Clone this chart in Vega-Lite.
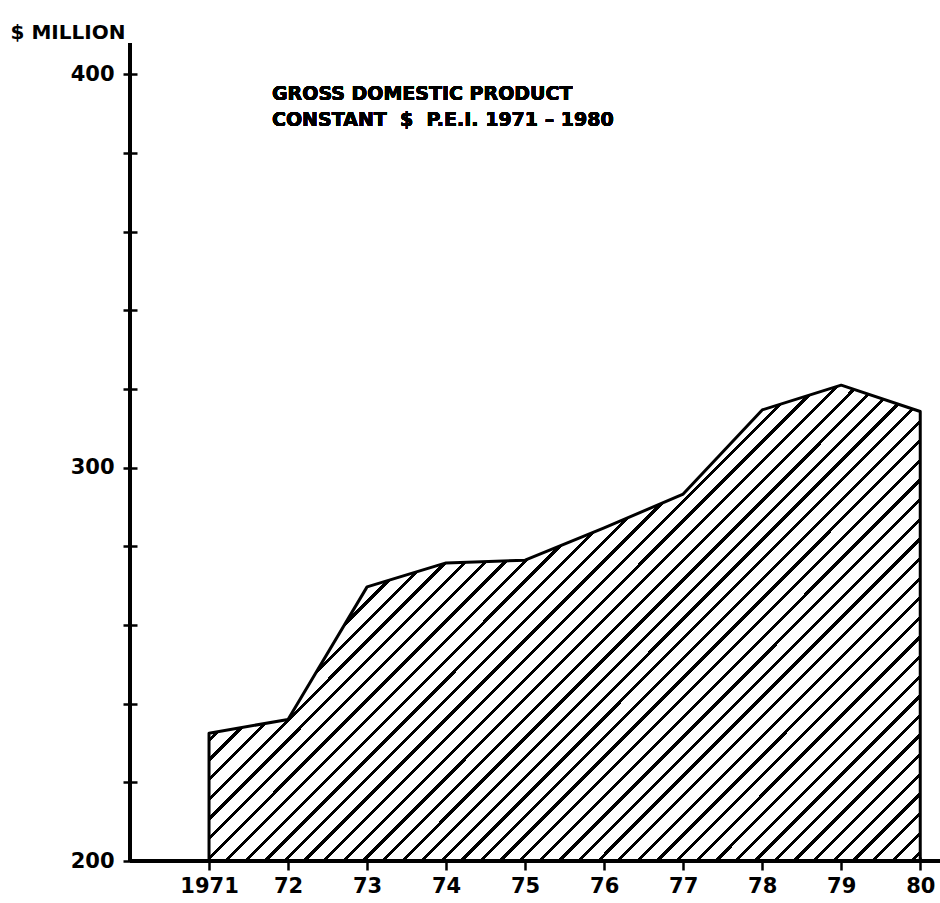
{
  "$schema": "https://vega.github.io/schema/vega-lite/v6.json",
  "autosize": "none",
  "padding": {"left": 130, "top": 43, "right": 0, "bottom": 42},
  "width": 810,
  "height": 818,
  "background": "white",
  "config": {"view": {"stroke": null}},
  "data": {"values": [
    {"year": 1971, "gdp": 232.5},
    {"year": 1972, "gdp": 236.0},
    {"year": 1973, "gdp": 269.7},
    {"year": 1974, "gdp": 275.8},
    {"year": 1975, "gdp": 276.5},
    {"year": 1976, "gdp": 284.7},
    {"year": 1977, "gdp": 293.3},
    {"year": 1978, "gdp": 314.7},
    {"year": 1979, "gdp": 321.0},
    {"year": 1980, "gdp": 314.3}
  ]},
  "layer": [
    {
      "mark": {
        "type": "area",
        "stroke": "black",
        "strokeWidth": 3,
        "strokeJoin": "round",
        "fill": {
          "gradient": "linear", "x1": 0, "y1": 0, "x2": 1.2, "y2": 0.8022,
          "stops": [
            {"offset": 0.0000, "color": "black"}, {"offset": 0.0035, "color": "black"}, {"offset": 0.0035, "color": "white"}, {"offset": 0.0159, "color": "white"},
            {"offset": 0.0159, "color": "black"}, {"offset": 0.0194, "color": "black"}, {"offset": 0.0194, "color": "white"}, {"offset": 0.0317, "color": "white"},
            {"offset": 0.0317, "color": "black"}, {"offset": 0.0352, "color": "black"}, {"offset": 0.0352, "color": "white"}, {"offset": 0.0476, "color": "white"},
            {"offset": 0.0476, "color": "black"}, {"offset": 0.0511, "color": "black"}, {"offset": 0.0511, "color": "white"}, {"offset": 0.0635, "color": "white"},
            {"offset": 0.0635, "color": "black"}, {"offset": 0.0670, "color": "black"}, {"offset": 0.0670, "color": "white"}, {"offset": 0.0794, "color": "white"},
            {"offset": 0.0794, "color": "black"}, {"offset": 0.0829, "color": "black"}, {"offset": 0.0829, "color": "white"}, {"offset": 0.0952, "color": "white"},
            {"offset": 0.0952, "color": "black"}, {"offset": 0.0987, "color": "black"}, {"offset": 0.0987, "color": "white"}, {"offset": 0.1111, "color": "white"},
            {"offset": 0.1111, "color": "black"}, {"offset": 0.1146, "color": "black"}, {"offset": 0.1146, "color": "white"}, {"offset": 0.1270, "color": "white"},
            {"offset": 0.1270, "color": "black"}, {"offset": 0.1305, "color": "black"}, {"offset": 0.1305, "color": "white"}, {"offset": 0.1429, "color": "white"},
            {"offset": 0.1429, "color": "black"}, {"offset": 0.1464, "color": "black"}, {"offset": 0.1464, "color": "white"}, {"offset": 0.1587, "color": "white"},
            {"offset": 0.1587, "color": "black"}, {"offset": 0.1622, "color": "black"}, {"offset": 0.1622, "color": "white"}, {"offset": 0.1746, "color": "white"},
            {"offset": 0.1746, "color": "black"}, {"offset": 0.1781, "color": "black"}, {"offset": 0.1781, "color": "white"}, {"offset": 0.1905, "color": "white"},
            {"offset": 0.1905, "color": "black"}, {"offset": 0.1940, "color": "black"}, {"offset": 0.1940, "color": "white"}, {"offset": 0.2063, "color": "white"},
            {"offset": 0.2063, "color": "black"}, {"offset": 0.2098, "color": "black"}, {"offset": 0.2098, "color": "white"}, {"offset": 0.2222, "color": "white"},
            {"offset": 0.2222, "color": "black"}, {"offset": 0.2257, "color": "black"}, {"offset": 0.2257, "color": "white"}, {"offset": 0.2381, "color": "white"},
            {"offset": 0.2381, "color": "black"}, {"offset": 0.2416, "color": "black"}, {"offset": 0.2416, "color": "white"}, {"offset": 0.2540, "color": "white"},
            {"offset": 0.2540, "color": "black"}, {"offset": 0.2575, "color": "black"}, {"offset": 0.2575, "color": "white"}, {"offset": 0.2698, "color": "white"},
            {"offset": 0.2698, "color": "black"}, {"offset": 0.2733, "color": "black"}, {"offset": 0.2733, "color": "white"}, {"offset": 0.2857, "color": "white"},
            {"offset": 0.2857, "color": "black"}, {"offset": 0.2892, "color": "black"}, {"offset": 0.2892, "color": "white"}, {"offset": 0.3016, "color": "white"},
            {"offset": 0.3016, "color": "black"}, {"offset": 0.3051, "color": "black"}, {"offset": 0.3051, "color": "white"}, {"offset": 0.3175, "color": "white"},
            {"offset": 0.3175, "color": "black"}, {"offset": 0.3210, "color": "black"}, {"offset": 0.3210, "color": "white"}, {"offset": 0.3333, "color": "white"},
            {"offset": 0.3333, "color": "black"}, {"offset": 0.3368, "color": "black"}, {"offset": 0.3368, "color": "white"}, {"offset": 0.3492, "color": "white"},
            {"offset": 0.3492, "color": "black"}, {"offset": 0.3527, "color": "black"}, {"offset": 0.3527, "color": "white"}, {"offset": 0.3651, "color": "white"},
            {"offset": 0.3651, "color": "black"}, {"offset": 0.3686, "color": "black"}, {"offset": 0.3686, "color": "white"}, {"offset": 0.3810, "color": "white"},
            {"offset": 0.3810, "color": "black"}, {"offset": 0.3845, "color": "black"}, {"offset": 0.3845, "color": "white"}, {"offset": 0.3968, "color": "white"},
            {"offset": 0.3968, "color": "black"}, {"offset": 0.4003, "color": "black"}, {"offset": 0.4003, "color": "white"}, {"offset": 0.4127, "color": "white"},
            {"offset": 0.4127, "color": "black"}, {"offset": 0.4162, "color": "black"}, {"offset": 0.4162, "color": "white"}, {"offset": 0.4286, "color": "white"},
            {"offset": 0.4286, "color": "black"}, {"offset": 0.4321, "color": "black"}, {"offset": 0.4321, "color": "white"}, {"offset": 0.4444, "color": "white"},
            {"offset": 0.4444, "color": "black"}, {"offset": 0.4479, "color": "black"}, {"offset": 0.4479, "color": "white"}, {"offset": 0.4603, "color": "white"},
            {"offset": 0.4603, "color": "black"}, {"offset": 0.4638, "color": "black"}, {"offset": 0.4638, "color": "white"}, {"offset": 0.4762, "color": "white"},
            {"offset": 0.4762, "color": "black"}, {"offset": 0.4797, "color": "black"}, {"offset": 0.4797, "color": "white"}, {"offset": 0.4921, "color": "white"},
            {"offset": 0.4921, "color": "black"}, {"offset": 0.4956, "color": "black"}, {"offset": 0.4956, "color": "white"}, {"offset": 0.5079, "color": "white"},
            {"offset": 0.5079, "color": "black"}, {"offset": 0.5114, "color": "black"}, {"offset": 0.5114, "color": "white"}, {"offset": 0.5238, "color": "white"},
            {"offset": 0.5238, "color": "black"}, {"offset": 0.5273, "color": "black"}, {"offset": 0.5273, "color": "white"}, {"offset": 0.5397, "color": "white"},
            {"offset": 0.5397, "color": "black"}, {"offset": 0.5432, "color": "black"}, {"offset": 0.5432, "color": "white"}, {"offset": 0.5556, "color": "white"},
            {"offset": 0.5556, "color": "black"}, {"offset": 0.5591, "color": "black"}, {"offset": 0.5591, "color": "white"}, {"offset": 0.5714, "color": "white"},
            {"offset": 0.5714, "color": "black"}, {"offset": 0.5749, "color": "black"}, {"offset": 0.5749, "color": "white"}, {"offset": 0.5873, "color": "white"},
            {"offset": 0.5873, "color": "black"}, {"offset": 0.5908, "color": "black"}, {"offset": 0.5908, "color": "white"}, {"offset": 0.6032, "color": "white"},
            {"offset": 0.6032, "color": "black"}, {"offset": 0.6067, "color": "black"}, {"offset": 0.6067, "color": "white"}, {"offset": 0.6190, "color": "white"},
            {"offset": 0.6190, "color": "black"}, {"offset": 0.6225, "color": "black"}, {"offset": 0.6225, "color": "white"}, {"offset": 0.6349, "color": "white"},
            {"offset": 0.6349, "color": "black"}, {"offset": 0.6384, "color": "black"}, {"offset": 0.6384, "color": "white"}, {"offset": 0.6508, "color": "white"},
            {"offset": 0.6508, "color": "black"}, {"offset": 0.6543, "color": "black"}, {"offset": 0.6543, "color": "white"}, {"offset": 0.6667, "color": "white"},
            {"offset": 0.6667, "color": "black"}, {"offset": 0.6702, "color": "black"}, {"offset": 0.6702, "color": "white"}, {"offset": 0.6825, "color": "white"},
            {"offset": 0.6825, "color": "black"}, {"offset": 0.6860, "color": "black"}, {"offset": 0.6860, "color": "white"}, {"offset": 0.6984, "color": "white"},
            {"offset": 0.6984, "color": "black"}, {"offset": 0.7019, "color": "black"}, {"offset": 0.7019, "color": "white"}, {"offset": 0.7143, "color": "white"},
            {"offset": 0.7143, "color": "black"}, {"offset": 0.7178, "color": "black"}, {"offset": 0.7178, "color": "white"}, {"offset": 0.7302, "color": "white"},
            {"offset": 0.7302, "color": "black"}, {"offset": 0.7337, "color": "black"}, {"offset": 0.7337, "color": "white"}, {"offset": 0.7460, "color": "white"},
            {"offset": 0.7460, "color": "black"}, {"offset": 0.7495, "color": "black"}, {"offset": 0.7495, "color": "white"}, {"offset": 0.7619, "color": "white"},
            {"offset": 0.7619, "color": "black"}, {"offset": 0.7654, "color": "black"}, {"offset": 0.7654, "color": "white"}, {"offset": 0.7778, "color": "white"},
            {"offset": 0.7778, "color": "black"}, {"offset": 0.7813, "color": "black"}, {"offset": 0.7813, "color": "white"}, {"offset": 0.7937, "color": "white"},
            {"offset": 0.7937, "color": "black"}, {"offset": 0.7972, "color": "black"}, {"offset": 0.7972, "color": "white"}, {"offset": 0.8095, "color": "white"},
            {"offset": 0.8095, "color": "black"}, {"offset": 0.8130, "color": "black"}, {"offset": 0.8130, "color": "white"}, {"offset": 0.8254, "color": "white"},
            {"offset": 0.8254, "color": "black"}, {"offset": 0.8289, "color": "black"}, {"offset": 0.8289, "color": "white"}, {"offset": 0.8413, "color": "white"},
            {"offset": 0.8413, "color": "black"}, {"offset": 0.8448, "color": "black"}, {"offset": 0.8448, "color": "white"}, {"offset": 0.8571, "color": "white"},
            {"offset": 0.8571, "color": "black"}, {"offset": 0.8606, "color": "black"}, {"offset": 0.8606, "color": "white"}, {"offset": 0.8730, "color": "white"},
            {"offset": 0.8730, "color": "black"}, {"offset": 0.8765, "color": "black"}, {"offset": 0.8765, "color": "white"}, {"offset": 0.8889, "color": "white"},
            {"offset": 0.8889, "color": "black"}, {"offset": 0.8924, "color": "black"}, {"offset": 0.8924, "color": "white"}, {"offset": 0.9048, "color": "white"},
            {"offset": 0.9048, "color": "black"}, {"offset": 0.9083, "color": "black"}, {"offset": 0.9083, "color": "white"}, {"offset": 0.9206, "color": "white"},
            {"offset": 0.9206, "color": "black"}, {"offset": 0.9241, "color": "black"}, {"offset": 0.9241, "color": "white"}, {"offset": 0.9365, "color": "white"},
            {"offset": 0.9365, "color": "black"}, {"offset": 0.9400, "color": "black"}, {"offset": 0.9400, "color": "white"}, {"offset": 0.9524, "color": "white"},
            {"offset": 0.9524, "color": "black"}, {"offset": 0.9559, "color": "black"}, {"offset": 0.9559, "color": "white"}, {"offset": 0.9683, "color": "white"},
            {"offset": 0.9683, "color": "black"}, {"offset": 0.9718, "color": "black"}, {"offset": 0.9718, "color": "white"}, {"offset": 0.9841, "color": "white"},
            {"offset": 0.9841, "color": "black"}, {"offset": 0.9876, "color": "black"}, {"offset": 0.9876, "color": "white"}, {"offset": 1.0000, "color": "white"}
          ]
        }
      },
      "encoding": {
        "x": {
          "field": "year", "type": "quantitative",
          "scale": {"domain": [1970, 1980.25], "nice": false, "zero": false},
          "axis": {
            "title": null,
            "values": [1971, 1972, 1973, 1974, 1975, 1976, 1977, 1978, 1979, 1980],
            "format": "d",
            "labelExpr": "datum.value == 1971 ? '1971' : substring(datum.label, 2)",
            "domain": false,
            "offset": -4,
            "tickSize": 13,
            "tickWidth": 2.5,
            "tickColor": "black",
            "labelPadding": 5,
            "labelFont": "DejaVu Sans",
            "labelFontWeight": "bold",
            "labelFontSize": 21,
            "labelColor": "black",
            "grid": false
          }
        },
        "y": {
          "field": "gdp", "type": "quantitative",
          "scale": {"domain": [200, 408], "nice": false, "zero": false},
          "axis": {
            "title": "$ MILLION",
            "titleAngle": 0,
            "titleAlign": "left",
            "titleBaseline": "alphabetic",
            "titleX": -127,
            "titleY": -5,
            "titleFont": "DejaVu Sans",
            "titleFontWeight": "bold",
            "titleFontSize": 20,
            "titleColor": "black",
            "values": [200, 220, 240, 260, 280, 300, 320, 340, 360, 380, 400],
            "format": "d",
            "labelExpr": "datum.value % 100 == 0 ? datum.label : ''",
            "domain": false,
            "offset": -7,
            "tickSize": 14,
            "tickWidth": 2.5,
            "tickColor": "black",
            "labelPadding": 9,
            "labelFont": "DejaVu Sans",
            "labelFontWeight": "bold",
            "labelFontSize": 21,
            "labelColor": "black",
            "grid": false
          }
        },
        "y2": {"datum": 200}
      }
    },
    {
      "mark": {"type": "rule", "color": "black", "strokeWidth": 3},
      "encoding": {"x": {"datum": 1970}}
    },
    {
      "mark": {"type": "rule", "color": "black", "strokeWidth": 3},
      "encoding": {"y": {"datum": 200}}
    },
    {
      "mark": {
        "type": "text",
        "text": ["GROSS DOMESTIC PRODUCT", "CONSTANT\u00a0\u00a0$\u00a0\u00a0P.E.I. 1971 – 1980"],
        "align": "left",
        "baseline": "alphabetic",
        "lineHeight": 26,
        "font": "DejaVu Sans",
        "fontWeight": "bold",
        "fontSize": 19,
        "color": "black"
      },
      "encoding": {
        "x": {"datum": 1971.797},
        "y": {"datum": 393.5}
      }
    }
  ]
}
